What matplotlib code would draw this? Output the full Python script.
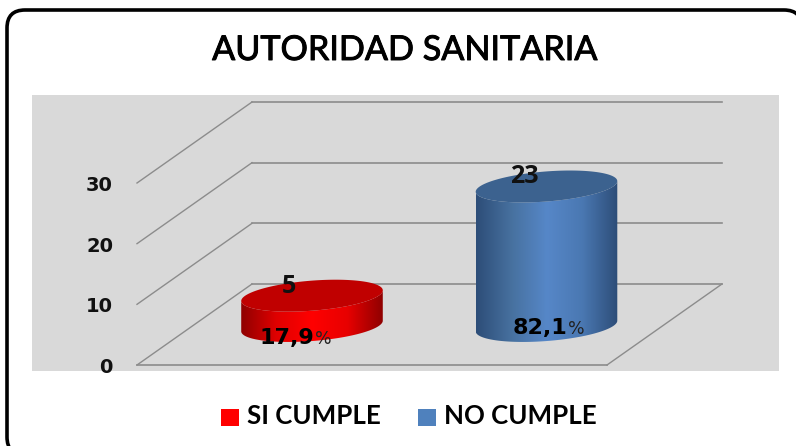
import numpy as np
import matplotlib
matplotlib.use("Agg")
import matplotlib.pyplot as plt
import matplotlib.patheffects as pe
from matplotlib.colors import LinearSegmentedColormap
from matplotlib.patches import FancyBboxPatch, PathPatch, Polygon, Rectangle
from matplotlib.path import Path

# datos
categorias = ["SI CUMPLE", "NO CUMPLE"]
conteos = [5, 23]
porcentajes = ["17,9", "82,1"]
ticks_y = [0, 10, 20, 30]
titulo = "AUTORIDAD SANITARIA"

W, H = 796, 446
PX_POR_UNIDAD = 182 / 30  # 0 en y=365, 30 en y=183
DX, DY = 115, 81  # desplazamiento de la profundidad


def y_px(v):
    return 365 - v * PX_POR_UNIDAD


def elipse(cx, cy, rx, ry, ang, t):
    a = np.radians(ang)
    x = rx * np.cos(t)
    y = ry * np.sin(t)
    return cx + x * np.cos(a) + y * np.sin(a), cy - x * np.sin(a) + y * np.cos(a)


def cilindro(ax, cx, valor, colores, color_tapa):
    rx, ry, ang = 71, 15, 4.5
    cy_base = 326
    cy_top = cy_base - valor * PX_POR_UNIDAD

    # lado: arco inferior de la base y arco inferior de la tapa
    t = np.linspace(np.pi, 0, 80)
    xb, yb = elipse(cx, cy_base, rx, ry, ang, t)
    xt, yt = elipse(cx, cy_top, rx, ry, ang, t[::-1])
    pts = np.column_stack([np.r_[xb, xt], np.r_[yb, yt]])
    clip = PathPatch(Path(np.vstack([pts, pts[0]]), closed=True), fc="none", ec="none")
    ax.add_patch(clip)
    cmap = LinearSegmentedColormap.from_list("lado", colores)
    grad = np.linspace(0, 1, 256).reshape(1, -1)
    im = ax.imshow(grad, cmap=cmap, aspect="auto", zorder=3,
                   extent=[pts[:, 0].min(), pts[:, 0].max(), pts[:, 1].max(), pts[:, 1].min()])
    im.set_clip_path(clip)

    # tapa
    t = np.linspace(0, 2 * np.pi, 160)
    xt, yt = elipse(cx, cy_top, rx, ry, ang, t)
    ax.add_patch(Polygon(np.column_stack([xt, yt]), closed=True, fc=color_tapa, ec="none", zorder=4))


plt.rcParams["font.family"] = ["Lato", "DejaVu Sans"]
fig = plt.figure(figsize=(W / 100, H / 100), dpi=100, facecolor="white")
ax = fig.add_axes([0, 0, 1, 1])
ax.set_autoscale_on(False)
ax.set_xlim(0, W)
ax.set_ylim(H, 0)

# marco redondeado, se sale por la derecha y por abajo
ax.add_patch(FancyBboxPatch((7, 10), 795, 445, boxstyle="round,pad=0,rounding_size=18",
                            fc="white", ec="black", lw=2.6, zorder=0))

# fondo gris del area de grafico
ax.add_patch(Rectangle((32, 95), 747, 276, fc="#d9d9d9", ec="none", zorder=1))

# rejilla
gris = "#8c8c8c"
x0, x1 = 137, 607
for v in ticks_y:
    y = y_px(v)
    ax.plot([x0, x0 + DX], [y, y - DY], color=gris, lw=1, zorder=2)
    ax.plot([x0 + DX, x1 + DX], [y - DY, y - DY], color=gris, lw=1.2, zorder=2)
    ax.text(113, y + 2.5, str(v), ha="right", va="center", fontsize=14,
            fontweight="bold", family="DejaVu Sans", color="#111111", zorder=6)
ax.plot([x0, x1], [y_px(0), y_px(0)], color=gris, lw=1.2, zorder=2)
ax.plot([x1, x1 + DX], [y_px(0), y_px(0) - DY], color=gris, lw=1, zorder=2)

# cilindros
centros = [312, 546.5]
lados = [["#8f0000", "#e00000", "#ff0000", "#e80000", "#8f0000"],
         ["#2d4d78", "#47719f", "#5687c8", "#4a78b2", "#2d4d78"]]
tapas = ["#c00000", "#3c628f"]
for c, n, col, tapa in zip(centros, conteos, lados, tapas):
    cilindro(ax, c, n, col, tapa)

# etiquetas de valores
pos_n = [(288.5, 286.5), (524, 176.5)]
pos_p = [(260, 344), (513, 334)]
for n, p, (xn, yn), (xp, yp) in zip(conteos, porcentajes, pos_n, pos_p):
    ax.text(xn, yn, str(n), ha="center", va="center", fontsize=18, fontweight="bold",
            family="Open Sans", color="#111111", zorder=6)
    t = ax.text(xp, yp, p, ha="left", va="baseline", fontsize=16, fontweight="bold",
                family="DejaVu Sans", color="black", zorder=6)
    fig.canvas.draw()
    bb = t.get_window_extent().transformed(ax.transData.inverted())
    ax.text(max(bb.x0, bb.x1), yp, "%", ha="left", va="baseline", fontsize=12.5,
            family="DejaVu Sans", color="#222222", zorder=6)

# titulo
ax.text(404.5, 50, titulo, ha="center", va="center", fontsize=24.6, color="black",
        zorder=6, path_effects=[pe.withStroke(linewidth=0.7, foreground="black")])

# leyenda
x_ley = [(221, 247), (418, 444)]
col_ley = ["#ff0000", "#4f81bd"]
for cat, (xc, xt), col in zip(categorias, x_ley, col_ley):
    ax.add_patch(Rectangle((xc, 409), 18, 17, fc=col, ec="none", zorder=6))
    ax.text(xt, 416.5, cat, ha="left", va="center", fontsize=18.6, color="black",
            fontweight="bold", zorder=6)

ax.axis("off")
fig.savefig("out.png", dpi=100, facecolor="white")
